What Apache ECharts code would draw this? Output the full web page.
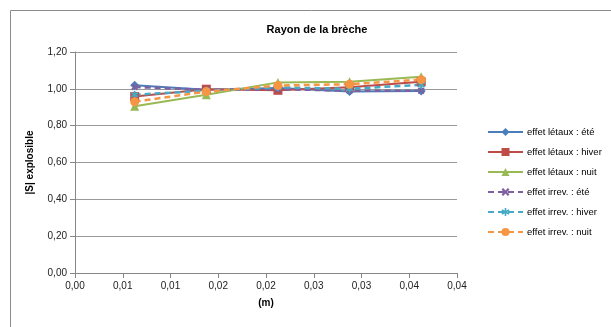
<!DOCTYPE html>
<html>
<head>
<meta charset="utf-8">
<script src="https://cdn.jsdelivr.net/npm/echarts@6/dist/echarts.min.js"></script>
<style>
  html, body { margin: 0; padding: 0; background: #fff; }
  #chart { width: 611px; height: 327px; }
</style>
</head>
<body>
<div id="chart"></div>
<script>
// Breach radius (m) for each computed case
const rayon = [0.00625, 0.01375, 0.02125, 0.02875, 0.03625];

// |S| explosible, one array per effect / scenario
const letauxEte   = [1.02, 0.995, 1.005, 0.985, 0.988];
const letauxHiver = [0.958, 0.998, 0.992, 1.008, 1.038];
const letauxNuit  = [0.905, 0.968, 1.035, 1.038, 1.066];
const irrevEte    = [1.01, 0.995, 0.998, 0.99, 0.99];
const irrevHiver  = [0.968, 0.99, 1.008, 1.0, 1.022];
const irrevNuit   = [0.93, 0.985, 1.018, 1.025, 1.05];

const seriesNames = [
  'effet létaux : été',
  'effet létaux : hiver',
  'effet létaux : nuit',
  'effet irrev. : été',
  'effet irrev. : hiver',
  'effet irrev. : nuit'
];

// Axis tick labels as printed (two decimals, French notation)
const xTickLabels = ['0,00', '0,01', '0,01', '0,02', '0,02', '0,03', '0,03', '0,04', '0,04'];
const yTickLabels = ['0,00', '0,20', '0,40', '0,60', '0,80', '1,00', '1,20'];

const X_STEP = 0.005;
const Y_STEP = 0.2;

const pairs = ys => rayon.map((x, i) => [x, ys[i]]);

const crossPath = 'path://M2,0 L5,3 L8,0 L10,2 L7,5 L10,8 L8,10 L5,7 L2,10 L0,8 L3,5 L0,2 Z';
const starPath = 'path://M4,0 L6,0 L6,3 L9,1.5 L10,3.5 L7,5 L10,6.5 L9,8.5 L6,7 L6,10 L4,10 L4,7 L1,8.5 L0,6.5 L3,5 L0,3.5 L1,1.5 L4,3 Z';

const styles = [
  { color: '#4A7EBB', symbol: 'diamond', size: 9, dash: 'solid', width: 2 },
  { color: '#BE4B48', symbol: 'rect', size: 9, dash: 'solid', width: 2 },
  { color: '#98B954', symbol: 'triangle', size: 9, dash: 'solid', width: 2 },
  { color: '#7D60A0', symbol: crossPath, size: 7, dash: [6, 4], width: 2.5 },
  { color: '#46AAC5', symbol: starPath, size: 8, dash: [6, 4], width: 2.5 },
  { color: '#F69544', symbol: 'circle', size: 9, dash: [6, 4], width: 2.5 }
];

const dataSets = [letauxEte, letauxHiver, letauxNuit, irrevEte, irrevHiver, irrevNuit];

const series = dataSets.map((ys, i) => ({
  name: seriesNames[i],
  type: 'line',
  data: pairs(ys),
  symbol: styles[i].symbol,
  symbolSize: styles[i].size,
  showAllSymbol: true,
  lineStyle: { color: styles[i].color, width: styles[i].width, type: styles[i].dash },
  itemStyle: { color: styles[i].color },
  emphasis: { disabled: true },
  animation: false
}));

const font = "'Liberation Sans Narrow', 'Liberation Sans', Arial, sans-serif";

const chart = echarts.init(document.getElementById('chart'), null, { renderer: 'canvas' });
chart.setOption({
  backgroundColor: '#ffffff',
  animation: false,
  title: {
    text: 'Rayon de la brèche',
    left: 312,
    top: 19,
    textAlign: 'center',
    textStyle: { fontFamily: font, fontSize: 11, fontWeight: 'bold', color: '#000' }
  },
  graphic: [{
    type: 'rect',
    shape: { x: 10.5, y: 10.5, width: 640, height: 340 },
    style: { fill: null, stroke: '#8c8c8c', lineWidth: 1 },
    silent: true
  }],
  grid: { left: 75, right: 154, top: 52, bottom: 54, containLabel: false },
  xAxis: {
    type: 'value',
    min: 0,
    max: 0.04,
    interval: X_STEP,
    name: '(m)',
    nameLocation: 'middle',
    nameGap: 25,
    nameTextStyle: { fontFamily: font, fontSize: 10, fontWeight: 'bold', color: '#000' },
    axisLine: { show: true, lineStyle: { color: '#868686', width: 1 } },
    axisTick: { show: true, length: 5, lineStyle: { color: '#868686' } },
    splitLine: { show: false },
    axisLabel: {
      fontFamily: font, fontSize: 10, color: '#222', margin: 8,
      formatter: v => xTickLabels[Math.round(v / X_STEP)]
    }
  },
  yAxis: {
    type: 'value',
    min: 0,
    max: 1.2,
    interval: Y_STEP,
    name: '|S| explosible',
    nameLocation: 'middle',
    nameGap: 40,
    nameRotate: 90,
    nameTextStyle: { fontFamily: font, fontSize: 10, fontWeight: 'bold', color: '#000' },
    axisLine: { show: true, lineStyle: { color: '#868686', width: 1 } },
    axisTick: { show: true, length: 5, inside: false, lineStyle: { color: '#868686' } },
    splitLine: { show: true, lineStyle: { color: '#999999', width: 1 } },
    axisLabel: {
      fontFamily: font, fontSize: 10, color: '#222', margin: 8,
      formatter: v => yTickLabels[Math.round(v / Y_STEP)]
    }
  },
  legend: {
    orient: 'vertical',
    left: 487,
    top: 127,
    padding: 0,
    itemWidth: 35,
    itemHeight: 10,
    itemGap: 10,
    textStyle: { fontFamily: font, fontSize: 9.5, color: '#000', padding: [0, 0, 0, -1] },
    selectedMode: false,
    data: seriesNames
  },
  series: series
});
</script>
</body>
</html>
